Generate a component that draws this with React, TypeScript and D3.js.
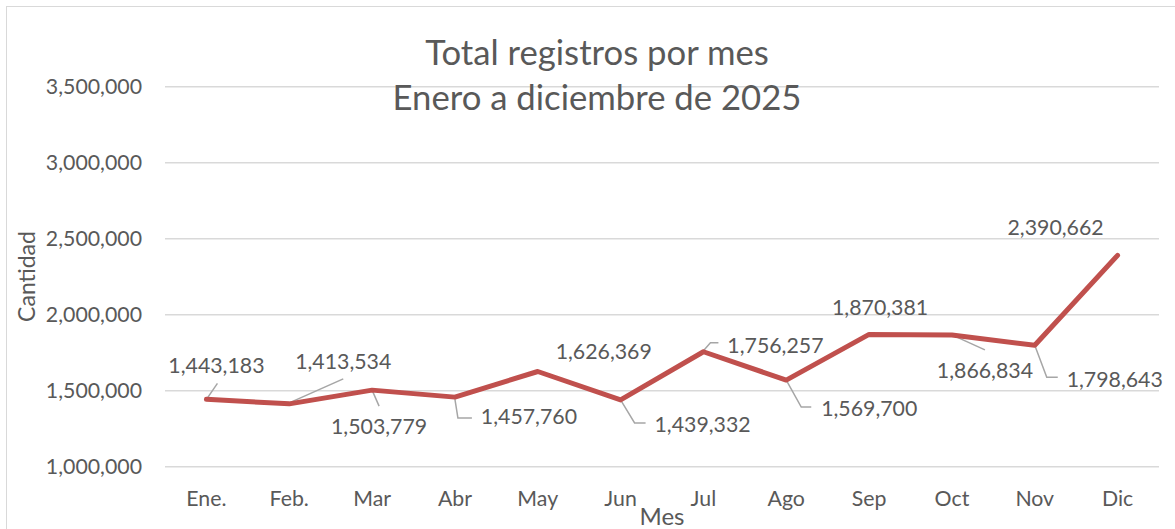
import React, { useEffect, useRef } from 'react';
import * as d3 from 'd3';

// values
const months = ['Ene.', 'Feb.', 'Mar', 'Abr', 'May', 'Jun', 'Jul', 'Ago', 'Sep', 'Oct', 'Nov', 'Dic'];
const registros = [1443183, 1413534, 1503779, 1457760, 1626369, 1439332, 1756257, 1569700, 1870381, 1866834, 1798643, 2390662];
const yTicks = [1000000, 1500000, 2000000, 2500000, 3000000, 3500000];
const titleLines = ['Total registros por mes', 'Enero a diciembre de 2025'];

// data label placement (label centre relative to point) and leader line shapes, as Excel left them
const labelOffsets: [number, number][] = [
  [10, -34], [54, -43], [7, 36], [74, 19], [66, -20], [82, 24],
  [72, -6], [83, 28], [11, -27], [33, 35], [80, 34], [-62, -28],
];
const leaders: ([number, number][] | null)[] = [
  [[0, 0], [11, -16]],
  [[0, -1], [54, -25]],
  [[0, 0], [7, 16]],
  [[0, 2], [3, 21], [17, 21]],
  null,
  [[0, 0], [14, 23], [25, 23]],
  [[0, -1], [7, -9], [15, -9]],
  [[0, 0], [15, 27], [25, 27]],
  null,
  [[0, 0], [33, 15]],
  [[0, 0], [12, 32], [23, 32]],
  null,
];

const W = 1175;
const H = 529;
const FONT = 'Lato, "Noto Sans", sans-serif';
const TEXT = '#595959';

const LineChart: React.FC = () => {
  const svgRef = useRef<SVGSVGElement>(null);

  useEffect(() => {
    if (!svgRef.current) return;
    const svg = d3.select(svgRef.current);
    svg.selectAll('*').remove();

    const plot = { left: 165, right: 1159, top: 86.7, bottom: 466.7 };
    const fmt = d3.format(',');

    const x = d3.scaleBand<string>().domain(months).range([plot.left, plot.right]);
    const y = d3.scaleLinear().domain([1000000, 3500000]).range([plot.bottom, plot.top]);
    const cx = (i: number) => (x(months[i]) as number) + x.bandwidth() / 2;

    // chart area border
    svg.append('rect')
      .attr('x', 6.5).attr('y', 6.5)
      .attr('width', 1200).attr('height', 560)
      .attr('fill', '#fff')
      .attr('stroke', '#d9d9d9');

    // gridlines
    svg.append('g')
      .selectAll('line')
      .data(yTicks)
      .enter()
      .append('line')
      .attr('x1', plot.left).attr('x2', plot.right)
      .attr('y1', d => y(d)).attr('y2', d => y(d))
      .attr('stroke', '#d9d9d9')
      .attr('stroke-width', 1.5);

    // y tick labels
    svg.append('g')
      .selectAll('text')
      .data(yTicks)
      .enter()
      .append('text')
      .attr('x', 142)
      .attr('y', d => y(d))
      .attr('dy', '0.36em')
      .attr('text-anchor', 'end')
      .attr('font-size', 21.3)
      .attr('fill', TEXT)
      .text(d => fmt(d));

    // x tick labels
    svg.append('g')
      .selectAll('text')
      .data(months)
      .enter()
      .append('text')
      .attr('x', (d, i) => cx(i))
      .attr('y', 506)
      .attr('text-anchor', 'middle')
      .attr('font-size', 21.3)
      .attr('fill', TEXT)
      .text(d => d);

    // titles
    svg.append('g')
      .selectAll('text')
      .data(titleLines)
      .enter()
      .append('text')
      .attr('x', 597)
      .attr('y', (d, i) => 65 + i * 45)
      .attr('text-anchor', 'middle')
      .attr('font-size', 34.7)
      .attr('fill', TEXT)
      .text(d => d);

    svg.append('text')
      .attr('transform', 'translate(35,276.5) rotate(-90)')
      .attr('text-anchor', 'middle')
      .attr('font-size', 23)
      .attr('fill', TEXT)
      .text('Cantidad');

    svg.append('text')
      .attr('x', (plot.left + plot.right) / 2)
      .attr('y', 525)
      .attr('text-anchor', 'middle')
      .attr('font-size', 24)
      .attr('fill', TEXT)
      .text('Mes');

    // leader lines
    const leaderLine = d3.line<[number, number]>();
    svg.append('g')
      .selectAll('path')
      .data(registros.map((v, i) => ({ v, i, pts: leaders[i] })).filter(d => d.pts))
      .enter()
      .append('path')
      .attr('d', d => leaderLine((d.pts as [number, number][]).map(([dx, dy]) => [cx(d.i) + dx, y(d.v) + dy])))
      .attr('fill', 'none')
      .attr('stroke', '#a6a6a6')
      .attr('stroke-width', 1.5);

    // series line
    const line = d3.line<number>()
      .x((d, i) => cx(i))
      .y(d => y(d));
    svg.append('path')
      .datum(registros)
      .attr('d', line)
      .attr('fill', 'none')
      .attr('stroke', '#C0504D')
      .attr('stroke-width', 5)
      .attr('stroke-linejoin', 'round')
      .attr('stroke-linecap', 'round');

    // data labels
    svg.append('g')
      .selectAll('text')
      .data(registros)
      .enter()
      .append('text')
      .attr('x', (d, i) => cx(i) + labelOffsets[i][0])
      .attr('y', (d, i) => y(d) + labelOffsets[i][1])
      .attr('dy', '0.36em')
      .attr('text-anchor', 'middle')
      .attr('font-size', 21.3)
      .attr('fill', TEXT)
      .text(d => fmt(d));
  }, []);

  return (
    <svg
      ref={svgRef}
      width={W}
      height={H}
      style={{ position: 'absolute', left: 0, top: 0, fontFamily: FONT, background: '#fff' }}
    />
  );
};

export default function App() {
  return <LineChart />;
}
